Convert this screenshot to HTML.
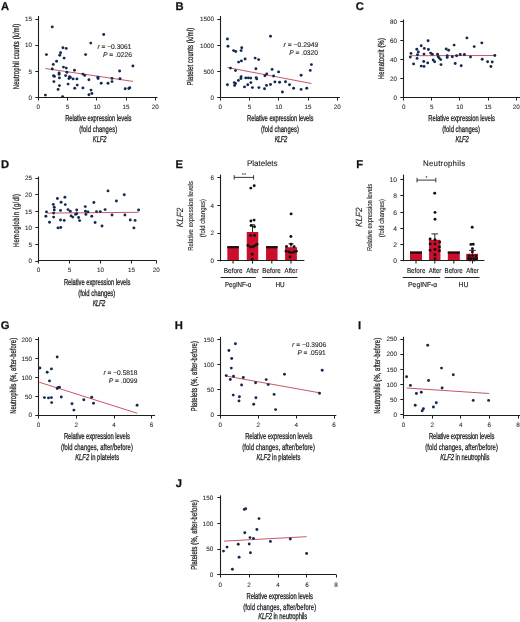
<!DOCTYPE html>
<html><head><meta charset="utf-8"><style>
html,body{margin:0;padding:0;background:#fff;width:520px;height:622px;overflow:hidden}
svg{display:block;will-change:transform;filter:blur(0.35px)}
text{font-family:"Liberation Sans", sans-serif;text-rendering:geometricPrecision}
</style></head><body>
<svg width="520" height="622" viewBox="0 0 520 622">
<rect width="520" height="622" fill="#fff"/>
<text x="1.00" y="10.02" font-size="11.2" font-weight="bold" fill="#111" stroke="#111" stroke-width="0.25">A</text>
<line x1="38.50" y1="16.00" x2="38.50" y2="97.55" stroke="#1e1e1e" stroke-width="1.1"/>
<line x1="35.30" y1="19.50" x2="38.50" y2="19.50" stroke="#1e1e1e" stroke-width="1.0"/>
<text x="31.90" y="21.47" font-size="6.3" fill="#2b2b2b" stroke="#2b2b2b" stroke-width="0.08" text-anchor="end">15</text>
<line x1="35.30" y1="45.50" x2="38.50" y2="45.50" stroke="#1e1e1e" stroke-width="1.0"/>
<text x="31.90" y="47.47" font-size="6.3" fill="#2b2b2b" stroke="#2b2b2b" stroke-width="0.08" text-anchor="end">10</text>
<line x1="35.30" y1="71.50" x2="38.50" y2="71.50" stroke="#1e1e1e" stroke-width="1.0"/>
<text x="31.90" y="73.57" font-size="6.3" fill="#2b2b2b" stroke="#2b2b2b" stroke-width="0.08" text-anchor="end">5</text>
<line x1="35.30" y1="97.50" x2="38.50" y2="97.50" stroke="#1e1e1e" stroke-width="1.0"/>
<text x="31.90" y="99.57" font-size="6.3" fill="#2b2b2b" stroke="#2b2b2b" stroke-width="0.08" text-anchor="end">0</text>
<line x1="37.95" y1="97.50" x2="157.50" y2="97.50" stroke="#1e1e1e" stroke-width="1.15"/>
<line x1="38.50" y1="97.50" x2="38.50" y2="100.50" stroke="#1e1e1e" stroke-width="1.0"/>
<text x="38.30" y="109.17" font-size="6.3" fill="#2b2b2b" stroke="#2b2b2b" stroke-width="0.08" text-anchor="middle">0</text>
<line x1="67.50" y1="97.50" x2="67.50" y2="100.50" stroke="#1e1e1e" stroke-width="1.0"/>
<text x="67.60" y="109.17" font-size="6.3" fill="#2b2b2b" stroke="#2b2b2b" stroke-width="0.08" text-anchor="middle">5</text>
<line x1="96.50" y1="97.50" x2="96.50" y2="100.50" stroke="#1e1e1e" stroke-width="1.0"/>
<text x="96.90" y="109.17" font-size="6.3" fill="#2b2b2b" stroke="#2b2b2b" stroke-width="0.08" text-anchor="middle">10</text>
<line x1="126.50" y1="97.50" x2="126.50" y2="100.50" stroke="#1e1e1e" stroke-width="1.0"/>
<text x="126.10" y="109.17" font-size="6.3" fill="#2b2b2b" stroke="#2b2b2b" stroke-width="0.08" text-anchor="middle">15</text>
<line x1="155.50" y1="97.50" x2="155.50" y2="100.50" stroke="#1e1e1e" stroke-width="1.0"/>
<text x="155.30" y="109.17" font-size="6.3" fill="#2b2b2b" stroke="#2b2b2b" stroke-width="0.08" text-anchor="middle">20</text>
<text transform="translate(19.35,89.25) rotate(-90) scale(0.68,1)" x="0" y="0" font-size="8.6" font-style="normal" fill="#272727" stroke="#272727" stroke-width="0.3" textLength="96.18" lengthAdjust="spacing">Neutrophil counts (k/ml)</text>
<text transform="translate(65.15,120.90) scale(0.68,1)" x="0" y="0" font-size="8.6" font-style="normal" fill="#272727" stroke="#272727" stroke-width="0.3" textLength="97.65" lengthAdjust="spacing">Relative expression levels</text>
<text transform="translate(79.35,131.50) scale(0.68,1)" x="0" y="0" font-size="8.6" font-style="normal" fill="#272727" stroke="#272727" stroke-width="0.3" textLength="55.59" lengthAdjust="spacing">(fold changes)</text>
<text transform="translate(92.85,142.10) scale(0.68,1)" x="0" y="0" font-size="8.6" font-style="italic" fill="#272727" stroke="#272727" stroke-width="0.3" textLength="20.15" lengthAdjust="spacing">KLF2</text>
<text x="97.50" y="49.05" font-size="6.8" font-weight="normal" font-style="normal" fill="#2b2b2b" stroke="#2b2b2b" stroke-width="0.12" textLength="33.90" lengthAdjust="spacingAndGlyphs"><tspan font-style="italic">r</tspan> = −0.3061</text>
<text x="103.00" y="57.25" font-size="6.8" font-weight="normal" font-style="normal" fill="#2b2b2b" stroke="#2b2b2b" stroke-width="0.12" textLength="29.00" lengthAdjust="spacingAndGlyphs"><tspan font-style="italic">P</tspan> = .0226</text>
<line x1="45.40" y1="68.50" x2="132.90" y2="81.40" stroke="#bf3850" stroke-width="0.85"/>
<circle cx="52.25" cy="26.90" r="1.45" fill="#132a50"/>
<circle cx="90.75" cy="43.10" r="1.45" fill="#132a50"/>
<circle cx="62.90" cy="47.75" r="1.45" fill="#132a50"/>
<circle cx="66.25" cy="48.40" r="1.45" fill="#132a50"/>
<circle cx="46.40" cy="54.60" r="1.45" fill="#132a50"/>
<circle cx="85.60" cy="54.60" r="1.45" fill="#132a50"/>
<circle cx="60.60" cy="52.75" r="1.45" fill="#132a50"/>
<circle cx="59.75" cy="55.25" r="1.45" fill="#132a50"/>
<circle cx="64.10" cy="58.10" r="1.45" fill="#132a50"/>
<circle cx="56.60" cy="61.25" r="1.45" fill="#132a50"/>
<circle cx="53.25" cy="64.40" r="1.45" fill="#132a50"/>
<circle cx="63.50" cy="67.10" r="1.45" fill="#132a50"/>
<circle cx="66.25" cy="68.10" r="1.45" fill="#132a50"/>
<circle cx="52.25" cy="69.00" r="1.45" fill="#132a50"/>
<circle cx="74.50" cy="70.25" r="1.45" fill="#132a50"/>
<circle cx="59.10" cy="72.90" r="1.45" fill="#132a50"/>
<circle cx="59.10" cy="74.20" r="1.45" fill="#132a50"/>
<circle cx="66.90" cy="72.25" r="1.45" fill="#132a50"/>
<circle cx="53.50" cy="75.75" r="1.45" fill="#132a50"/>
<circle cx="54.40" cy="76.40" r="1.45" fill="#132a50"/>
<circle cx="65.60" cy="75.60" r="1.45" fill="#132a50"/>
<circle cx="69.50" cy="76.60" r="1.45" fill="#132a50"/>
<circle cx="70.40" cy="77.50" r="1.45" fill="#132a50"/>
<circle cx="68.90" cy="78.50" r="1.45" fill="#132a50"/>
<circle cx="73.10" cy="78.90" r="1.45" fill="#132a50"/>
<circle cx="76.90" cy="78.90" r="1.45" fill="#132a50"/>
<circle cx="82.90" cy="74.10" r="1.45" fill="#132a50"/>
<circle cx="84.75" cy="75.40" r="1.45" fill="#132a50"/>
<circle cx="59.40" cy="77.90" r="1.45" fill="#132a50"/>
<circle cx="53.90" cy="81.60" r="1.45" fill="#132a50"/>
<circle cx="88.90" cy="79.75" r="1.45" fill="#132a50"/>
<circle cx="97.90" cy="77.25" r="1.45" fill="#132a50"/>
<circle cx="98.10" cy="78.50" r="1.45" fill="#132a50"/>
<circle cx="68.10" cy="84.10" r="1.45" fill="#132a50"/>
<circle cx="59.40" cy="85.60" r="1.45" fill="#132a50"/>
<circle cx="77.25" cy="85.10" r="1.45" fill="#132a50"/>
<circle cx="58.10" cy="89.40" r="1.45" fill="#132a50"/>
<circle cx="74.75" cy="88.25" r="1.45" fill="#132a50"/>
<circle cx="82.90" cy="87.90" r="1.45" fill="#132a50"/>
<circle cx="91.00" cy="90.10" r="1.45" fill="#132a50"/>
<circle cx="91.90" cy="93.50" r="1.45" fill="#132a50"/>
<circle cx="88.90" cy="94.75" r="1.45" fill="#132a50"/>
<circle cx="45.40" cy="95.10" r="1.45" fill="#132a50"/>
<circle cx="62.60" cy="96.60" r="1.45" fill="#132a50"/>
<circle cx="101.20" cy="83.20" r="1.45" fill="#132a50"/>
<circle cx="103.70" cy="34.50" r="1.45" fill="#132a50"/>
<circle cx="132.90" cy="66.00" r="1.45" fill="#132a50"/>
<circle cx="119.60" cy="71.00" r="1.45" fill="#132a50"/>
<circle cx="120.00" cy="78.80" r="1.45" fill="#132a50"/>
<circle cx="112.00" cy="78.40" r="1.45" fill="#132a50"/>
<circle cx="112.00" cy="81.60" r="1.45" fill="#132a50"/>
<circle cx="108.00" cy="83.20" r="1.45" fill="#132a50"/>
<circle cx="125.20" cy="88.80" r="1.45" fill="#132a50"/>
<circle cx="128.80" cy="88.50" r="1.45" fill="#132a50"/>
<circle cx="129.80" cy="87.70" r="1.45" fill="#132a50"/>
<text x="175.40" y="9.92" font-size="11.2" font-weight="bold" fill="#111" stroke="#111" stroke-width="0.25">B</text>
<line x1="220.50" y1="16.00" x2="220.50" y2="97.55" stroke="#1e1e1e" stroke-width="1.1"/>
<line x1="217.30" y1="19.50" x2="220.50" y2="19.50" stroke="#1e1e1e" stroke-width="1.0"/>
<text x="213.90" y="21.47" font-size="6.3" fill="#2b2b2b" stroke="#2b2b2b" stroke-width="0.08" text-anchor="end">1500</text>
<line x1="217.30" y1="45.50" x2="220.50" y2="45.50" stroke="#1e1e1e" stroke-width="1.0"/>
<text x="213.90" y="47.67" font-size="6.3" fill="#2b2b2b" stroke="#2b2b2b" stroke-width="0.08" text-anchor="end">1000</text>
<line x1="217.30" y1="71.50" x2="220.50" y2="71.50" stroke="#1e1e1e" stroke-width="1.0"/>
<text x="213.90" y="73.67" font-size="6.3" fill="#2b2b2b" stroke="#2b2b2b" stroke-width="0.08" text-anchor="end">500</text>
<line x1="217.30" y1="97.50" x2="220.50" y2="97.50" stroke="#1e1e1e" stroke-width="1.0"/>
<text x="213.90" y="99.57" font-size="6.3" fill="#2b2b2b" stroke="#2b2b2b" stroke-width="0.08" text-anchor="end">0</text>
<line x1="219.95" y1="97.50" x2="339.90" y2="97.50" stroke="#1e1e1e" stroke-width="1.15"/>
<line x1="220.50" y1="97.50" x2="220.50" y2="100.50" stroke="#1e1e1e" stroke-width="1.0"/>
<text x="220.30" y="109.17" font-size="6.3" fill="#2b2b2b" stroke="#2b2b2b" stroke-width="0.08" text-anchor="middle">0</text>
<line x1="249.50" y1="97.50" x2="249.50" y2="100.50" stroke="#1e1e1e" stroke-width="1.0"/>
<text x="249.60" y="109.17" font-size="6.3" fill="#2b2b2b" stroke="#2b2b2b" stroke-width="0.08" text-anchor="middle">5</text>
<line x1="278.50" y1="97.50" x2="278.50" y2="100.50" stroke="#1e1e1e" stroke-width="1.0"/>
<text x="278.80" y="109.17" font-size="6.3" fill="#2b2b2b" stroke="#2b2b2b" stroke-width="0.08" text-anchor="middle">10</text>
<line x1="308.50" y1="97.50" x2="308.50" y2="100.50" stroke="#1e1e1e" stroke-width="1.0"/>
<text x="308.00" y="109.17" font-size="6.3" fill="#2b2b2b" stroke="#2b2b2b" stroke-width="0.08" text-anchor="middle">15</text>
<line x1="337.50" y1="97.50" x2="337.50" y2="100.50" stroke="#1e1e1e" stroke-width="1.0"/>
<text x="337.30" y="109.17" font-size="6.3" fill="#2b2b2b" stroke="#2b2b2b" stroke-width="0.08" text-anchor="middle">20</text>
<text transform="translate(192.95,85.45) rotate(-90) scale(0.68,1)" x="0" y="0" font-size="8.6" font-style="normal" fill="#272727" stroke="#272727" stroke-width="0.3" textLength="84.85" lengthAdjust="spacing">Platelet counts (k/ml)</text>
<text transform="translate(247.05,120.90) scale(0.68,1)" x="0" y="0" font-size="8.6" font-style="normal" fill="#272727" stroke="#272727" stroke-width="0.3" textLength="97.72" lengthAdjust="spacing">Relative expression levels</text>
<text transform="translate(260.95,131.50) scale(0.68,1)" x="0" y="0" font-size="8.6" font-style="normal" fill="#272727" stroke="#272727" stroke-width="0.3" textLength="56.03" lengthAdjust="spacing">(fold changes)</text>
<text transform="translate(274.75,142.10) scale(0.68,1)" x="0" y="0" font-size="8.6" font-style="italic" fill="#272727" stroke="#272727" stroke-width="0.3" textLength="18.24" lengthAdjust="spacing">KLF2</text>
<text x="283.60" y="47.35" font-size="6.8" font-weight="normal" font-style="normal" fill="#2b2b2b" stroke="#2b2b2b" stroke-width="0.12" textLength="34.65" lengthAdjust="spacingAndGlyphs"><tspan font-style="italic">r</tspan> = −0.2949</text>
<text x="289.25" y="55.35" font-size="6.8" font-weight="normal" font-style="normal" fill="#2b2b2b" stroke="#2b2b2b" stroke-width="0.12" textLength="28.75" lengthAdjust="spacingAndGlyphs"><tspan font-style="italic">P</tspan> = .0320</text>
<line x1="227.40" y1="67.50" x2="311.50" y2="83.50" stroke="#bf3850" stroke-width="0.85"/>
<circle cx="227.40" cy="39.00" r="1.45" fill="#132a50"/>
<circle cx="228.00" cy="46.25" r="1.45" fill="#132a50"/>
<circle cx="233.60" cy="50.60" r="1.45" fill="#132a50"/>
<circle cx="235.75" cy="51.50" r="1.45" fill="#132a50"/>
<circle cx="241.75" cy="47.75" r="1.45" fill="#132a50"/>
<circle cx="241.10" cy="50.60" r="1.45" fill="#132a50"/>
<circle cx="270.50" cy="36.25" r="1.45" fill="#132a50"/>
<circle cx="245.10" cy="59.00" r="1.45" fill="#132a50"/>
<circle cx="241.40" cy="60.90" r="1.45" fill="#132a50"/>
<circle cx="238.60" cy="62.10" r="1.45" fill="#132a50"/>
<circle cx="255.10" cy="58.10" r="1.45" fill="#132a50"/>
<circle cx="258.60" cy="59.60" r="1.45" fill="#132a50"/>
<circle cx="230.50" cy="68.10" r="1.45" fill="#132a50"/>
<circle cx="235.50" cy="70.60" r="1.45" fill="#132a50"/>
<circle cx="255.90" cy="68.75" r="1.45" fill="#132a50"/>
<circle cx="272.10" cy="69.40" r="1.45" fill="#132a50"/>
<circle cx="278.60" cy="71.90" r="1.45" fill="#132a50"/>
<circle cx="264.90" cy="75.75" r="1.45" fill="#132a50"/>
<circle cx="266.75" cy="73.90" r="1.45" fill="#132a50"/>
<circle cx="273.60" cy="76.00" r="1.45" fill="#132a50"/>
<circle cx="241.10" cy="76.60" r="1.45" fill="#132a50"/>
<circle cx="240.90" cy="78.50" r="1.45" fill="#132a50"/>
<circle cx="245.75" cy="77.90" r="1.45" fill="#132a50"/>
<circle cx="248.40" cy="77.90" r="1.45" fill="#132a50"/>
<circle cx="250.75" cy="78.10" r="1.45" fill="#132a50"/>
<circle cx="256.10" cy="77.60" r="1.45" fill="#132a50"/>
<circle cx="256.75" cy="78.90" r="1.45" fill="#132a50"/>
<circle cx="238.40" cy="80.40" r="1.45" fill="#132a50"/>
<circle cx="234.25" cy="82.60" r="1.45" fill="#132a50"/>
<circle cx="235.50" cy="83.50" r="1.45" fill="#132a50"/>
<circle cx="234.60" cy="85.40" r="1.45" fill="#132a50"/>
<circle cx="227.40" cy="84.75" r="1.45" fill="#132a50"/>
<circle cx="250.90" cy="82.60" r="1.45" fill="#132a50"/>
<circle cx="247.75" cy="84.75" r="1.45" fill="#132a50"/>
<circle cx="244.50" cy="86.90" r="1.45" fill="#132a50"/>
<circle cx="252.40" cy="87.60" r="1.45" fill="#132a50"/>
<circle cx="258.90" cy="87.60" r="1.45" fill="#132a50"/>
<circle cx="264.50" cy="88.75" r="1.45" fill="#132a50"/>
<circle cx="266.50" cy="85.40" r="1.45" fill="#132a50"/>
<circle cx="270.50" cy="84.50" r="1.45" fill="#132a50"/>
<circle cx="274.90" cy="81.90" r="1.45" fill="#132a50"/>
<circle cx="279.60" cy="82.25" r="1.45" fill="#132a50"/>
<circle cx="282.40" cy="92.00" r="1.45" fill="#132a50"/>
<circle cx="311.40" cy="64.60" r="1.45" fill="#132a50"/>
<circle cx="310.25" cy="70.40" r="1.45" fill="#132a50"/>
<circle cx="301.10" cy="75.25" r="1.45" fill="#132a50"/>
<circle cx="285.50" cy="81.70" r="1.45" fill="#132a50"/>
<circle cx="289.50" cy="84.70" r="1.45" fill="#132a50"/>
<circle cx="293.60" cy="88.20" r="1.45" fill="#132a50"/>
<circle cx="306.75" cy="88.30" r="1.45" fill="#132a50"/>
<circle cx="301.10" cy="89.40" r="1.45" fill="#132a50"/>
<text x="355.70" y="9.92" font-size="11.2" font-weight="bold" fill="#111" stroke="#111" stroke-width="0.25">C</text>
<line x1="403.50" y1="19.50" x2="403.50" y2="97.75" stroke="#1e1e1e" stroke-width="1.1"/>
<line x1="400.30" y1="21.50" x2="403.50" y2="21.50" stroke="#1e1e1e" stroke-width="1.0"/>
<text x="396.90" y="23.87" font-size="6.3" fill="#2b2b2b" stroke="#2b2b2b" stroke-width="0.08" text-anchor="end">80</text>
<line x1="400.30" y1="40.50" x2="403.50" y2="40.50" stroke="#1e1e1e" stroke-width="1.0"/>
<text x="396.90" y="42.87" font-size="6.3" fill="#2b2b2b" stroke="#2b2b2b" stroke-width="0.08" text-anchor="end">60</text>
<line x1="400.30" y1="59.50" x2="403.50" y2="59.50" stroke="#1e1e1e" stroke-width="1.0"/>
<text x="396.90" y="61.77" font-size="6.3" fill="#2b2b2b" stroke="#2b2b2b" stroke-width="0.08" text-anchor="end">40</text>
<line x1="400.30" y1="78.50" x2="403.50" y2="78.50" stroke="#1e1e1e" stroke-width="1.0"/>
<text x="396.90" y="80.77" font-size="6.3" fill="#2b2b2b" stroke="#2b2b2b" stroke-width="0.08" text-anchor="end">20</text>
<line x1="400.30" y1="97.50" x2="403.50" y2="97.50" stroke="#1e1e1e" stroke-width="1.0"/>
<text x="396.90" y="99.57" font-size="6.3" fill="#2b2b2b" stroke="#2b2b2b" stroke-width="0.08" text-anchor="end">0</text>
<line x1="402.95" y1="97.50" x2="520.50" y2="97.50" stroke="#1e1e1e" stroke-width="1.15"/>
<line x1="403.50" y1="97.50" x2="403.50" y2="100.50" stroke="#1e1e1e" stroke-width="1.0"/>
<text x="403.70" y="109.17" font-size="6.3" fill="#2b2b2b" stroke="#2b2b2b" stroke-width="0.08" text-anchor="middle">0</text>
<line x1="431.50" y1="97.50" x2="431.50" y2="100.50" stroke="#1e1e1e" stroke-width="1.0"/>
<text x="431.80" y="109.17" font-size="6.3" fill="#2b2b2b" stroke="#2b2b2b" stroke-width="0.08" text-anchor="middle">5</text>
<line x1="459.50" y1="97.50" x2="459.50" y2="100.50" stroke="#1e1e1e" stroke-width="1.0"/>
<text x="459.80" y="109.17" font-size="6.3" fill="#2b2b2b" stroke="#2b2b2b" stroke-width="0.08" text-anchor="middle">10</text>
<line x1="488.50" y1="97.50" x2="488.50" y2="100.50" stroke="#1e1e1e" stroke-width="1.0"/>
<text x="488.00" y="109.17" font-size="6.3" fill="#2b2b2b" stroke="#2b2b2b" stroke-width="0.08" text-anchor="middle">15</text>
<line x1="516.50" y1="97.50" x2="516.50" y2="100.50" stroke="#1e1e1e" stroke-width="1.0"/>
<text x="516.30" y="109.17" font-size="6.3" fill="#2b2b2b" stroke="#2b2b2b" stroke-width="0.08" text-anchor="middle">20</text>
<text transform="translate(383.90,79.15) rotate(-90) scale(0.68,1)" x="0" y="0" font-size="8.6" font-style="normal" fill="#272727" stroke="#272727" stroke-width="0.3" textLength="60.29" lengthAdjust="spacing">Hematocrit (%)</text>
<text transform="translate(428.35,120.90) scale(0.68,1)" x="0" y="0" font-size="8.6" font-style="normal" fill="#272727" stroke="#272727" stroke-width="0.3" textLength="97.94" lengthAdjust="spacing">Relative expression levels</text>
<text transform="translate(442.35,131.50) scale(0.68,1)" x="0" y="0" font-size="8.6" font-style="normal" fill="#272727" stroke="#272727" stroke-width="0.3" textLength="55.29" lengthAdjust="spacing">(fold changes)</text>
<text transform="translate(455.55,142.10) scale(0.68,1)" x="0" y="0" font-size="8.6" font-style="italic" fill="#272727" stroke="#272727" stroke-width="0.3" textLength="19.26" lengthAdjust="spacing">KLF2</text>
<line x1="411.30" y1="55.70" x2="494.80" y2="55.50" stroke="#bf3850" stroke-width="0.85"/>
<circle cx="411.00" cy="53.40" r="1.45" fill="#132a50"/>
<circle cx="410.30" cy="57.00" r="1.45" fill="#132a50"/>
<circle cx="413.60" cy="63.90" r="1.45" fill="#132a50"/>
<circle cx="416.80" cy="49.20" r="1.45" fill="#132a50"/>
<circle cx="418.30" cy="51.90" r="1.45" fill="#132a50"/>
<circle cx="417.50" cy="54.80" r="1.45" fill="#132a50"/>
<circle cx="417.10" cy="58.40" r="1.45" fill="#132a50"/>
<circle cx="421.20" cy="45.80" r="1.45" fill="#132a50"/>
<circle cx="424.30" cy="48.40" r="1.45" fill="#132a50"/>
<circle cx="424.00" cy="54.10" r="1.45" fill="#132a50"/>
<circle cx="423.75" cy="61.50" r="1.45" fill="#132a50"/>
<circle cx="421.20" cy="66.10" r="1.45" fill="#132a50"/>
<circle cx="424.00" cy="66.40" r="1.45" fill="#132a50"/>
<circle cx="427.70" cy="62.90" r="1.45" fill="#132a50"/>
<circle cx="428.10" cy="40.80" r="1.45" fill="#132a50"/>
<circle cx="428.40" cy="49.50" r="1.45" fill="#132a50"/>
<circle cx="430.60" cy="53.10" r="1.45" fill="#132a50"/>
<circle cx="432.30" cy="54.20" r="1.45" fill="#132a50"/>
<circle cx="433.20" cy="60.00" r="1.45" fill="#132a50"/>
<circle cx="434.60" cy="61.75" r="1.45" fill="#132a50"/>
<circle cx="437.50" cy="54.20" r="1.45" fill="#132a50"/>
<circle cx="438.20" cy="56.70" r="1.45" fill="#132a50"/>
<circle cx="439.20" cy="58.10" r="1.45" fill="#132a50"/>
<circle cx="440.70" cy="59.60" r="1.45" fill="#132a50"/>
<circle cx="441.00" cy="64.60" r="1.45" fill="#132a50"/>
<circle cx="446.20" cy="49.00" r="1.45" fill="#132a50"/>
<circle cx="448.60" cy="50.20" r="1.45" fill="#132a50"/>
<circle cx="447.20" cy="55.70" r="1.45" fill="#132a50"/>
<circle cx="447.20" cy="57.40" r="1.45" fill="#132a50"/>
<circle cx="452.30" cy="56.70" r="1.45" fill="#132a50"/>
<circle cx="454.10" cy="45.10" r="1.45" fill="#132a50"/>
<circle cx="455.20" cy="63.50" r="1.45" fill="#132a50"/>
<circle cx="456.60" cy="55.70" r="1.45" fill="#132a50"/>
<circle cx="460.20" cy="54.50" r="1.45" fill="#132a50"/>
<circle cx="461.20" cy="65.80" r="1.45" fill="#132a50"/>
<circle cx="466.90" cy="37.90" r="1.45" fill="#132a50"/>
<circle cx="481.80" cy="42.90" r="1.45" fill="#132a50"/>
<circle cx="474.20" cy="46.60" r="1.45" fill="#132a50"/>
<circle cx="464.40" cy="54.50" r="1.45" fill="#132a50"/>
<circle cx="470.50" cy="57.00" r="1.45" fill="#132a50"/>
<circle cx="482.20" cy="59.30" r="1.45" fill="#132a50"/>
<circle cx="487.60" cy="61.75" r="1.45" fill="#132a50"/>
<circle cx="492.20" cy="62.00" r="1.45" fill="#132a50"/>
<circle cx="490.90" cy="66.50" r="1.45" fill="#132a50"/>
<circle cx="494.80" cy="55.50" r="1.45" fill="#132a50"/>
<text x="1.00" y="168.12" font-size="11.2" font-weight="bold" fill="#111" stroke="#111" stroke-width="0.25">D</text>
<line x1="38.50" y1="176.50" x2="38.50" y2="261.55" stroke="#1e1e1e" stroke-width="1.1"/>
<line x1="35.30" y1="178.50" x2="38.50" y2="178.50" stroke="#1e1e1e" stroke-width="1.0"/>
<text x="31.90" y="180.47" font-size="6.3" fill="#2b2b2b" stroke="#2b2b2b" stroke-width="0.08" text-anchor="end">25</text>
<line x1="35.30" y1="194.50" x2="38.50" y2="194.50" stroke="#1e1e1e" stroke-width="1.0"/>
<text x="31.90" y="197.07" font-size="6.3" fill="#2b2b2b" stroke="#2b2b2b" stroke-width="0.08" text-anchor="end">20</text>
<line x1="35.30" y1="211.50" x2="38.50" y2="211.50" stroke="#1e1e1e" stroke-width="1.0"/>
<text x="31.90" y="213.67" font-size="6.3" fill="#2b2b2b" stroke="#2b2b2b" stroke-width="0.08" text-anchor="end">15</text>
<line x1="35.30" y1="227.50" x2="38.50" y2="227.50" stroke="#1e1e1e" stroke-width="1.0"/>
<text x="31.90" y="230.27" font-size="6.3" fill="#2b2b2b" stroke="#2b2b2b" stroke-width="0.08" text-anchor="end">10</text>
<line x1="35.30" y1="244.50" x2="38.50" y2="244.50" stroke="#1e1e1e" stroke-width="1.0"/>
<text x="31.90" y="246.87" font-size="6.3" fill="#2b2b2b" stroke="#2b2b2b" stroke-width="0.08" text-anchor="end">5</text>
<line x1="35.30" y1="261.50" x2="38.50" y2="261.50" stroke="#1e1e1e" stroke-width="1.0"/>
<text x="31.90" y="263.37" font-size="6.3" fill="#2b2b2b" stroke="#2b2b2b" stroke-width="0.08" text-anchor="end">0</text>
<line x1="37.95" y1="260.50" x2="156.60" y2="260.50" stroke="#1e1e1e" stroke-width="1.15"/>
<line x1="38.50" y1="260.50" x2="38.50" y2="263.50" stroke="#1e1e1e" stroke-width="1.0"/>
<text x="38.50" y="272.17" font-size="6.3" fill="#2b2b2b" stroke="#2b2b2b" stroke-width="0.08" text-anchor="middle">0</text>
<line x1="69.50" y1="260.50" x2="69.50" y2="263.50" stroke="#1e1e1e" stroke-width="1.0"/>
<text x="69.40" y="272.17" font-size="6.3" fill="#2b2b2b" stroke="#2b2b2b" stroke-width="0.08" text-anchor="middle">5</text>
<line x1="100.50" y1="260.50" x2="100.50" y2="263.50" stroke="#1e1e1e" stroke-width="1.0"/>
<text x="100.40" y="272.17" font-size="6.3" fill="#2b2b2b" stroke="#2b2b2b" stroke-width="0.08" text-anchor="middle">10</text>
<line x1="131.50" y1="260.50" x2="131.50" y2="263.50" stroke="#1e1e1e" stroke-width="1.0"/>
<text x="131.50" y="272.17" font-size="6.3" fill="#2b2b2b" stroke="#2b2b2b" stroke-width="0.08" text-anchor="middle">15</text>
<line x1="156.50" y1="260.50" x2="156.50" y2="263.50" stroke="#1e1e1e" stroke-width="1.0"/>
<text x="156.30" y="272.17" font-size="6.3" fill="#2b2b2b" stroke="#2b2b2b" stroke-width="0.08" text-anchor="middle">20</text>
<text transform="translate(18.75,247.25) rotate(-90) scale(0.68,1)" x="0" y="0" font-size="8.6" font-style="normal" fill="#272727" stroke="#272727" stroke-width="0.3" textLength="78.38" lengthAdjust="spacing">Hemoglobin (g/dl)</text>
<text transform="translate(63.90,285.00) scale(0.68,1)" x="0" y="0" font-size="8.6" font-style="normal" fill="#272727" stroke="#272727" stroke-width="0.3" textLength="97.87" lengthAdjust="spacing">Relative expression levels</text>
<text transform="translate(78.25,295.50) scale(0.68,1)" x="0" y="0" font-size="8.6" font-style="normal" fill="#272727" stroke="#272727" stroke-width="0.3" textLength="54.41" lengthAdjust="spacing">(fold changes)</text>
<text transform="translate(92.65,306.30) scale(0.68,1)" x="0" y="0" font-size="8.6" font-style="italic" fill="#272727" stroke="#272727" stroke-width="0.3" textLength="18.53" lengthAdjust="spacing">KLF2</text>
<line x1="47.40" y1="213.10" x2="138.25" y2="212.30" stroke="#bf3850" stroke-width="0.85"/>
<circle cx="46.50" cy="211.90" r="1.45" fill="#132a50"/>
<circle cx="45.90" cy="216.25" r="1.45" fill="#132a50"/>
<circle cx="49.50" cy="222.25" r="1.45" fill="#132a50"/>
<circle cx="53.25" cy="204.40" r="1.45" fill="#132a50"/>
<circle cx="54.25" cy="207.25" r="1.45" fill="#132a50"/>
<circle cx="54.25" cy="210.00" r="1.45" fill="#132a50"/>
<circle cx="53.60" cy="213.10" r="1.45" fill="#132a50"/>
<circle cx="53.60" cy="217.10" r="1.45" fill="#132a50"/>
<circle cx="57.40" cy="198.50" r="1.45" fill="#132a50"/>
<circle cx="61.10" cy="202.25" r="1.45" fill="#132a50"/>
<circle cx="64.90" cy="197.25" r="1.45" fill="#132a50"/>
<circle cx="65.25" cy="204.60" r="1.45" fill="#132a50"/>
<circle cx="60.50" cy="210.40" r="1.45" fill="#132a50"/>
<circle cx="60.50" cy="220.00" r="1.45" fill="#132a50"/>
<circle cx="64.25" cy="220.40" r="1.45" fill="#132a50"/>
<circle cx="58.00" cy="227.90" r="1.45" fill="#132a50"/>
<circle cx="60.75" cy="227.50" r="1.45" fill="#132a50"/>
<circle cx="68.00" cy="209.60" r="1.45" fill="#132a50"/>
<circle cx="70.25" cy="211.25" r="1.45" fill="#132a50"/>
<circle cx="71.10" cy="215.90" r="1.45" fill="#132a50"/>
<circle cx="72.75" cy="217.10" r="1.45" fill="#132a50"/>
<circle cx="76.75" cy="210.00" r="1.45" fill="#132a50"/>
<circle cx="76.75" cy="213.75" r="1.45" fill="#132a50"/>
<circle cx="75.50" cy="214.40" r="1.45" fill="#132a50"/>
<circle cx="78.60" cy="217.50" r="1.45" fill="#132a50"/>
<circle cx="79.60" cy="220.60" r="1.45" fill="#132a50"/>
<circle cx="85.25" cy="206.60" r="1.45" fill="#132a50"/>
<circle cx="85.50" cy="211.25" r="1.45" fill="#132a50"/>
<circle cx="85.90" cy="214.40" r="1.45" fill="#132a50"/>
<circle cx="88.00" cy="211.90" r="1.45" fill="#132a50"/>
<circle cx="93.90" cy="202.50" r="1.45" fill="#132a50"/>
<circle cx="91.75" cy="216.25" r="1.45" fill="#132a50"/>
<circle cx="95.10" cy="222.50" r="1.45" fill="#132a50"/>
<circle cx="96.50" cy="211.60" r="1.45" fill="#132a50"/>
<circle cx="100.25" cy="211.60" r="1.45" fill="#132a50"/>
<circle cx="102.00" cy="226.00" r="1.45" fill="#132a50"/>
<circle cx="108.00" cy="190.90" r="1.45" fill="#132a50"/>
<circle cx="124.25" cy="194.75" r="1.45" fill="#132a50"/>
<circle cx="116.40" cy="201.00" r="1.45" fill="#132a50"/>
<circle cx="105.10" cy="209.60" r="1.45" fill="#132a50"/>
<circle cx="112.00" cy="215.00" r="1.45" fill="#132a50"/>
<circle cx="124.90" cy="215.00" r="1.45" fill="#132a50"/>
<circle cx="130.25" cy="220.00" r="1.45" fill="#132a50"/>
<circle cx="135.10" cy="220.40" r="1.45" fill="#132a50"/>
<circle cx="138.60" cy="210.00" r="1.45" fill="#132a50"/>
<circle cx="133.90" cy="227.90" r="1.45" fill="#132a50"/>
<text x="175.60" y="168.12" font-size="11.2" font-weight="bold" fill="#111" stroke="#111" stroke-width="0.25">E</text>
<text x="247.0" y="165.9" font-size="8.1" fill="#222" stroke="#222" stroke-width="0.1" textLength="30.6" lengthAdjust="spacing">Platelets</text>
<line x1="220.50" y1="174.60" x2="220.50" y2="261.35" stroke="#1e1e1e" stroke-width="1.1"/>
<line x1="217.30" y1="177.50" x2="220.50" y2="177.50" stroke="#1e1e1e" stroke-width="1.0"/>
<text x="213.90" y="179.77" font-size="6.3" fill="#2b2b2b" stroke="#2b2b2b" stroke-width="0.08" text-anchor="end">6</text>
<line x1="217.30" y1="205.50" x2="220.50" y2="205.50" stroke="#1e1e1e" stroke-width="1.0"/>
<text x="213.90" y="207.57" font-size="6.3" fill="#2b2b2b" stroke="#2b2b2b" stroke-width="0.08" text-anchor="end">4</text>
<line x1="217.30" y1="233.50" x2="220.50" y2="233.50" stroke="#1e1e1e" stroke-width="1.0"/>
<text x="213.90" y="235.37" font-size="6.3" fill="#2b2b2b" stroke="#2b2b2b" stroke-width="0.08" text-anchor="end">2</text>
<line x1="217.30" y1="260.50" x2="220.50" y2="260.50" stroke="#1e1e1e" stroke-width="1.0"/>
<text x="213.90" y="263.17" font-size="6.3" fill="#2b2b2b" stroke="#2b2b2b" stroke-width="0.08" text-anchor="end">0</text>
<line x1="220.00" y1="260.50" x2="304.20" y2="260.50" stroke="#1e1e1e" stroke-width="1.15"/>
<text transform="translate(182.84,227.15) rotate(-90) scale(0.93,1)" x="0" y="0" font-size="9.0" font-style="italic" fill="#272727" stroke="#272727" stroke-width="0.12" textLength="21.08" lengthAdjust="spacing">KLF2</text>
<text transform="translate(192.89,250.85) rotate(-90) scale(0.81,1)" x="0" y="0" font-size="7.2" font-style="normal" fill="#272727" stroke="#272727" stroke-width="0.12" textLength="86.05" lengthAdjust="spacing">Relative expression levels</text>
<text transform="translate(204.59,237.35) rotate(-90) scale(0.81,1)" x="0" y="0" font-size="7.2" font-style="normal" fill="#272727" stroke="#272727" stroke-width="0.12" textLength="47.28" lengthAdjust="spacing">(fold changes)</text>
<rect x="227.35" y="246.20" width="11.50" height="14.60" fill="#cc0d2c"/>
<rect x="227.35" y="246.10" width="11.50" height="2.20" fill="#141010"/>
<rect x="246.75" y="232.00" width="11.50" height="28.80" fill="#cc0d2c"/>
<line x1="252.50" y1="232.00" x2="252.50" y2="224.80" stroke="#111" stroke-width="0.9"/>
<line x1="250.00" y1="224.80" x2="255.00" y2="224.80" stroke="#111" stroke-width="0.9"/>
<circle cx="250.80" cy="188.10" r="1.45" fill="#111"/>
<circle cx="254.20" cy="185.80" r="1.45" fill="#111"/>
<circle cx="250.90" cy="221.00" r="1.45" fill="#111"/>
<circle cx="254.10" cy="220.10" r="1.45" fill="#111"/>
<circle cx="251.10" cy="225.60" r="1.45" fill="#111"/>
<circle cx="254.50" cy="226.70" r="1.45" fill="#111"/>
<circle cx="250.60" cy="235.40" r="1.45" fill="#111"/>
<circle cx="254.60" cy="235.40" r="1.45" fill="#111"/>
<circle cx="247.90" cy="245.40" r="1.45" fill="#111"/>
<circle cx="250.40" cy="247.00" r="1.45" fill="#111"/>
<circle cx="253.00" cy="246.80" r="1.45" fill="#111"/>
<circle cx="255.20" cy="245.60" r="1.45" fill="#111"/>
<circle cx="257.00" cy="244.20" r="1.45" fill="#111"/>
<circle cx="252.20" cy="254.30" r="1.45" fill="#111"/>
<circle cx="252.20" cy="259.30" r="1.45" fill="#111"/>
<rect x="266.05" y="246.20" width="11.50" height="14.60" fill="#cc0d2c"/>
<rect x="266.05" y="246.10" width="11.50" height="2.20" fill="#141010"/>
<rect x="285.10" y="247.20" width="11.80" height="13.60" fill="#cc0d2c"/>
<line x1="291.00" y1="247.20" x2="291.00" y2="243.80" stroke="#111" stroke-width="0.9"/>
<line x1="288.50" y1="243.80" x2="293.50" y2="243.80" stroke="#111" stroke-width="0.9"/>
<circle cx="291.10" cy="213.90" r="1.45" fill="#111"/>
<circle cx="290.90" cy="236.50" r="1.45" fill="#111"/>
<circle cx="286.50" cy="246.50" r="1.45" fill="#111"/>
<circle cx="294.10" cy="246.70" r="1.45" fill="#111"/>
<circle cx="291.10" cy="244.20" r="1.45" fill="#111"/>
<circle cx="286.10" cy="251.30" r="1.45" fill="#111"/>
<circle cx="296.30" cy="251.30" r="1.45" fill="#111"/>
<circle cx="289.00" cy="252.00" r="1.45" fill="#111"/>
<circle cx="291.50" cy="252.60" r="1.45" fill="#111"/>
<circle cx="294.00" cy="252.00" r="1.45" fill="#111"/>
<circle cx="290.00" cy="257.00" r="1.45" fill="#111"/>
<line x1="220.00" y1="260.50" x2="304.20" y2="260.50" stroke="#1e1e1e" stroke-width="1.15"/>
<line x1="233.10" y1="260.80" x2="233.10" y2="263.60" stroke="#1e1e1e" stroke-width="1.1"/>
<line x1="252.50" y1="260.80" x2="252.50" y2="263.60" stroke="#1e1e1e" stroke-width="1.1"/>
<line x1="271.80" y1="260.80" x2="271.80" y2="263.60" stroke="#1e1e1e" stroke-width="1.1"/>
<line x1="291.00" y1="260.80" x2="291.00" y2="263.60" stroke="#1e1e1e" stroke-width="1.1"/>
<line x1="234.20" y1="177.40" x2="253.60" y2="177.40" stroke="#222" stroke-width="0.9"/>
<line x1="234.20" y1="175.20" x2="234.20" y2="179.60" stroke="#222" stroke-width="0.9"/>
<line x1="253.60" y1="175.20" x2="253.60" y2="179.60" stroke="#222" stroke-width="0.9"/>
<text x="244.0" y="177.0" font-size="6" fill="#222" text-anchor="middle">**</text>
<text x="223.80" y="272.99" font-size="7.2" font-weight="normal" font-style="normal" fill="#222" stroke="#222" stroke-width="0.15" textLength="18.90" lengthAdjust="spacingAndGlyphs">Before</text>
<text x="246.20" y="272.99" font-size="7.2" font-weight="normal" font-style="normal" fill="#222" stroke="#222" stroke-width="0.15" textLength="12.80" lengthAdjust="spacingAndGlyphs">After</text>
<text x="262.30" y="272.99" font-size="7.2" font-weight="normal" font-style="normal" fill="#222" stroke="#222" stroke-width="0.15" textLength="18.50" lengthAdjust="spacingAndGlyphs">Before</text>
<text x="284.60" y="272.99" font-size="7.2" font-weight="normal" font-style="normal" fill="#222" stroke="#222" stroke-width="0.15" textLength="12.90" lengthAdjust="spacingAndGlyphs">After</text>
<line x1="220.60" y1="277.50" x2="255.80" y2="277.50" stroke="#222" stroke-width="1.0"/>
<line x1="262.30" y1="277.50" x2="297.50" y2="277.50" stroke="#222" stroke-width="1.0"/>
<text x="225.00" y="286.79" font-size="7.2" font-weight="normal" font-style="normal" fill="#222" stroke="#222" stroke-width="0.15" textLength="26.30" lengthAdjust="spacingAndGlyphs">PegINF-α</text>
<text x="275.40" y="286.79" font-size="7.2" font-weight="normal" font-style="normal" fill="#222" stroke="#222" stroke-width="0.15" textLength="9.20" lengthAdjust="spacingAndGlyphs">HU</text>
<text x="356.20" y="168.12" font-size="11.2" font-weight="bold" fill="#111" stroke="#111" stroke-width="0.25">F</text>
<text x="423.1" y="166.0" font-size="7.9" fill="#222" stroke="#222" stroke-width="0.1" textLength="42.0" lengthAdjust="spacing">Neutrophils</text>
<line x1="403.50" y1="174.60" x2="403.50" y2="261.25" stroke="#1e1e1e" stroke-width="1.1"/>
<line x1="400.30" y1="179.50" x2="403.50" y2="179.50" stroke="#1e1e1e" stroke-width="1.0"/>
<text x="397.00" y="182.01" font-size="6.7" fill="#2b2b2b" stroke="#2b2b2b" stroke-width="0.08" text-anchor="end">10</text>
<line x1="400.30" y1="195.50" x2="403.50" y2="195.50" stroke="#1e1e1e" stroke-width="1.0"/>
<text x="397.00" y="198.21" font-size="6.7" fill="#2b2b2b" stroke="#2b2b2b" stroke-width="0.08" text-anchor="end">8</text>
<line x1="400.30" y1="212.50" x2="403.50" y2="212.50" stroke="#1e1e1e" stroke-width="1.0"/>
<text x="397.00" y="214.51" font-size="6.7" fill="#2b2b2b" stroke="#2b2b2b" stroke-width="0.08" text-anchor="end">6</text>
<line x1="400.30" y1="228.50" x2="403.50" y2="228.50" stroke="#1e1e1e" stroke-width="1.0"/>
<text x="397.00" y="230.81" font-size="6.7" fill="#2b2b2b" stroke="#2b2b2b" stroke-width="0.08" text-anchor="end">4</text>
<line x1="400.30" y1="244.50" x2="403.50" y2="244.50" stroke="#1e1e1e" stroke-width="1.0"/>
<text x="397.00" y="247.01" font-size="6.7" fill="#2b2b2b" stroke="#2b2b2b" stroke-width="0.08" text-anchor="end">2</text>
<line x1="400.30" y1="260.50" x2="403.50" y2="260.50" stroke="#1e1e1e" stroke-width="1.0"/>
<text x="397.00" y="263.21" font-size="6.7" fill="#2b2b2b" stroke="#2b2b2b" stroke-width="0.08" text-anchor="end">0</text>
<text transform="translate(362.14,226.95) rotate(-90) scale(0.93,1)" x="0" y="0" font-size="9.0" font-style="italic" fill="#272727" stroke="#272727" stroke-width="0.12" textLength="20.97" lengthAdjust="spacing">KLF2</text>
<text transform="translate(372.49,251.05) rotate(-90) scale(0.81,1)" x="0" y="0" font-size="7.2" font-style="normal" fill="#272727" stroke="#272727" stroke-width="0.12" textLength="82.96" lengthAdjust="spacing">Relative expression levels</text>
<text transform="translate(383.89,237.15) rotate(-90) scale(0.81,1)" x="0" y="0" font-size="7.2" font-style="normal" fill="#272727" stroke="#272727" stroke-width="0.12" textLength="47.04" lengthAdjust="spacing">(fold changes)</text>
<rect x="410.00" y="251.60" width="12.00" height="9.10" fill="#cc0d2c"/>
<rect x="410.00" y="251.50" width="12.00" height="2.20" fill="#141010"/>
<rect x="429.05" y="239.80" width="11.40" height="20.90" fill="#cc0d2c"/>
<line x1="434.80" y1="239.80" x2="434.80" y2="233.90" stroke="#111" stroke-width="0.9"/>
<line x1="431.50" y1="233.90" x2="438.10" y2="233.90" stroke="#111" stroke-width="0.9"/>
<circle cx="434.70" cy="193.20" r="1.45" fill="#111"/>
<circle cx="435.00" cy="212.40" r="1.45" fill="#111"/>
<circle cx="435.00" cy="219.30" r="1.45" fill="#111"/>
<circle cx="430.10" cy="239.00" r="1.45" fill="#111"/>
<circle cx="435.00" cy="239.80" r="1.45" fill="#111"/>
<circle cx="439.70" cy="242.10" r="1.45" fill="#111"/>
<circle cx="430.10" cy="243.90" r="1.45" fill="#111"/>
<circle cx="435.00" cy="243.90" r="1.45" fill="#111"/>
<circle cx="439.40" cy="247.00" r="1.45" fill="#111"/>
<circle cx="430.10" cy="250.30" r="1.45" fill="#111"/>
<circle cx="435.00" cy="249.50" r="1.45" fill="#111"/>
<circle cx="439.40" cy="250.80" r="1.45" fill="#111"/>
<circle cx="435.00" cy="254.70" r="1.45" fill="#111"/>
<circle cx="435.00" cy="258.80" r="1.45" fill="#111"/>
<rect x="447.80" y="251.60" width="12.00" height="9.10" fill="#cc0d2c"/>
<rect x="447.80" y="251.50" width="12.00" height="2.20" fill="#141010"/>
<rect x="466.20" y="253.80" width="11.80" height="6.90" fill="#cc0d2c"/>
<line x1="472.40" y1="253.80" x2="472.40" y2="250.40" stroke="#111" stroke-width="0.9"/>
<line x1="469.10" y1="250.40" x2="475.70" y2="250.40" stroke="#111" stroke-width="0.9"/>
<circle cx="472.20" cy="227.30" r="1.45" fill="#111"/>
<circle cx="470.90" cy="244.40" r="1.45" fill="#111"/>
<circle cx="473.20" cy="244.20" r="1.45" fill="#111"/>
<circle cx="472.40" cy="248.80" r="1.45" fill="#111"/>
<circle cx="472.40" cy="252.00" r="1.45" fill="#111"/>
<circle cx="469.00" cy="256.00" r="1.45" fill="#111"/>
<circle cx="472.50" cy="255.60" r="1.45" fill="#111"/>
<circle cx="476.00" cy="256.00" r="1.45" fill="#111"/>
<circle cx="468.60" cy="258.60" r="1.45" fill="#111"/>
<circle cx="471.40" cy="258.40" r="1.45" fill="#111"/>
<circle cx="474.20" cy="258.60" r="1.45" fill="#111"/>
<circle cx="476.40" cy="258.80" r="1.45" fill="#111"/>
<circle cx="470.00" cy="260.00" r="1.45" fill="#111"/>
<circle cx="474.50" cy="260.00" r="1.45" fill="#111"/>
<line x1="403.10" y1="260.50" x2="484.40" y2="260.50" stroke="#1e1e1e" stroke-width="1.15"/>
<line x1="416.00" y1="260.70" x2="416.00" y2="263.50" stroke="#1e1e1e" stroke-width="1.1"/>
<line x1="434.80" y1="260.70" x2="434.80" y2="263.50" stroke="#1e1e1e" stroke-width="1.1"/>
<line x1="453.80" y1="260.70" x2="453.80" y2="263.50" stroke="#1e1e1e" stroke-width="1.1"/>
<line x1="472.50" y1="260.70" x2="472.50" y2="263.50" stroke="#1e1e1e" stroke-width="1.1"/>
<line x1="417.00" y1="180.10" x2="435.80" y2="180.10" stroke="#222" stroke-width="0.9"/>
<line x1="417.00" y1="177.80" x2="417.00" y2="182.40" stroke="#222" stroke-width="0.9"/>
<line x1="435.80" y1="177.80" x2="435.80" y2="182.40" stroke="#222" stroke-width="0.9"/>
<text x="426.3" y="180.4" font-size="6" fill="#222" text-anchor="middle">*</text>
<text x="406.90" y="272.79" font-size="7.2" font-weight="normal" font-style="normal" fill="#222" stroke="#222" stroke-width="0.15" textLength="18.50" lengthAdjust="spacingAndGlyphs">Before</text>
<text x="428.70" y="272.79" font-size="7.2" font-weight="normal" font-style="normal" fill="#222" stroke="#222" stroke-width="0.15" textLength="12.50" lengthAdjust="spacingAndGlyphs">After</text>
<text x="444.60" y="272.79" font-size="7.2" font-weight="normal" font-style="normal" fill="#222" stroke="#222" stroke-width="0.15" textLength="18.10" lengthAdjust="spacingAndGlyphs">Before</text>
<text x="466.20" y="272.79" font-size="7.2" font-weight="normal" font-style="normal" fill="#222" stroke="#222" stroke-width="0.15" textLength="12.50" lengthAdjust="spacingAndGlyphs">After</text>
<line x1="402.70" y1="277.50" x2="440.20" y2="277.50" stroke="#222" stroke-width="1.0"/>
<line x1="444.60" y1="277.50" x2="479.60" y2="277.50" stroke="#222" stroke-width="1.0"/>
<text x="408.10" y="286.79" font-size="7.2" font-weight="normal" font-style="normal" fill="#222" stroke="#222" stroke-width="0.15" textLength="29.20" lengthAdjust="spacingAndGlyphs">PegINF-α</text>
<text x="458.50" y="286.79" font-size="7.2" font-weight="normal" font-style="normal" fill="#222" stroke="#222" stroke-width="0.15" textLength="10.00" lengthAdjust="spacingAndGlyphs">HU</text>
<text x="0.70" y="329.12" font-size="11.2" font-weight="bold" fill="#111" stroke="#111" stroke-width="0.25">G</text>
<line x1="38.50" y1="337.20" x2="38.50" y2="415.55" stroke="#1e1e1e" stroke-width="1.1"/>
<line x1="35.30" y1="339.50" x2="38.50" y2="339.50" stroke="#1e1e1e" stroke-width="1.0"/>
<text x="32.10" y="341.67" font-size="6.3" fill="#2b2b2b" stroke="#2b2b2b" stroke-width="0.08" text-anchor="end">200</text>
<line x1="35.30" y1="358.50" x2="38.50" y2="358.50" stroke="#1e1e1e" stroke-width="1.0"/>
<text x="32.10" y="360.57" font-size="6.3" fill="#2b2b2b" stroke="#2b2b2b" stroke-width="0.08" text-anchor="end">150</text>
<line x1="35.30" y1="377.50" x2="38.50" y2="377.50" stroke="#1e1e1e" stroke-width="1.0"/>
<text x="32.10" y="379.57" font-size="6.3" fill="#2b2b2b" stroke="#2b2b2b" stroke-width="0.08" text-anchor="end">100</text>
<line x1="35.30" y1="396.50" x2="38.50" y2="396.50" stroke="#1e1e1e" stroke-width="1.0"/>
<text x="32.10" y="398.57" font-size="6.3" fill="#2b2b2b" stroke="#2b2b2b" stroke-width="0.08" text-anchor="end">50</text>
<line x1="35.30" y1="415.50" x2="38.50" y2="415.50" stroke="#1e1e1e" stroke-width="1.0"/>
<text x="32.10" y="417.37" font-size="6.3" fill="#2b2b2b" stroke="#2b2b2b" stroke-width="0.08" text-anchor="end">0</text>
<line x1="37.95" y1="415.50" x2="155.10" y2="415.50" stroke="#1e1e1e" stroke-width="1.15"/>
<line x1="38.50" y1="415.50" x2="38.50" y2="418.50" stroke="#1e1e1e" stroke-width="1.0"/>
<text x="38.60" y="427.27" font-size="6.3" fill="#2b2b2b" stroke="#2b2b2b" stroke-width="0.08" text-anchor="middle">0</text>
<line x1="76.50" y1="415.50" x2="76.50" y2="418.50" stroke="#1e1e1e" stroke-width="1.0"/>
<text x="76.30" y="427.27" font-size="6.3" fill="#2b2b2b" stroke="#2b2b2b" stroke-width="0.08" text-anchor="middle">2</text>
<line x1="114.50" y1="415.50" x2="114.50" y2="418.50" stroke="#1e1e1e" stroke-width="1.0"/>
<text x="114.10" y="427.27" font-size="6.3" fill="#2b2b2b" stroke="#2b2b2b" stroke-width="0.08" text-anchor="middle">4</text>
<line x1="151.50" y1="415.50" x2="151.50" y2="418.50" stroke="#1e1e1e" stroke-width="1.0"/>
<text x="151.60" y="427.27" font-size="6.3" fill="#2b2b2b" stroke="#2b2b2b" stroke-width="0.08" text-anchor="middle">6</text>
<text transform="translate(15.55,413.85) rotate(-90) scale(0.68,1)" x="0" y="0" font-size="8.6" font-style="normal" fill="#272727" stroke="#272727" stroke-width="0.3" textLength="111.76" lengthAdjust="spacing">Neutrophils (%, after-before)</text>
<text transform="translate(63.90,438.75) scale(0.68,1)" x="0" y="0" font-size="8.6" font-style="normal" fill="#272727" stroke="#272727" stroke-width="0.3" textLength="96.99" lengthAdjust="spacing">Relative expression levels</text>
<text transform="translate(60.90,450.00) scale(0.68,1)" x="0" y="0" font-size="8.6" font-style="normal" fill="#272727" stroke="#272727" stroke-width="0.3" textLength="105.81" lengthAdjust="spacing">(fold changes, after/before)</text>
<text transform="translate(75.15,460.00) scale(0.68,1)" x="0" y="0" font-size="8.6" font-style="normal" fill="#272727" stroke="#272727" stroke-width="0.3" textLength="64.63" lengthAdjust="spacing"><tspan font-style="italic">KLF2</tspan> in platelets</text>
<text x="103.50" y="374.85" font-size="6.8" font-weight="normal" font-style="normal" fill="#2b2b2b" stroke="#2b2b2b" stroke-width="0.12" textLength="33.90" lengthAdjust="spacingAndGlyphs"><tspan font-style="italic">r</tspan> = −0.5818</text>
<text x="108.80" y="382.85" font-size="6.8" font-weight="normal" font-style="normal" fill="#2b2b2b" stroke="#2b2b2b" stroke-width="0.12" textLength="28.60" lengthAdjust="spacingAndGlyphs"><tspan font-style="italic">P</tspan> = .0099</text>
<line x1="39.20" y1="382.20" x2="137.30" y2="413.30" stroke="#bf3850" stroke-width="0.85"/>
<circle cx="39.90" cy="368.00" r="1.45" fill="#132a50"/>
<circle cx="47.20" cy="372.20" r="1.45" fill="#132a50"/>
<circle cx="51.40" cy="368.90" r="1.45" fill="#132a50"/>
<circle cx="49.50" cy="380.90" r="1.45" fill="#132a50"/>
<circle cx="57.20" cy="357.00" r="1.45" fill="#132a50"/>
<circle cx="57.90" cy="387.60" r="1.45" fill="#132a50"/>
<circle cx="59.50" cy="387.30" r="1.45" fill="#132a50"/>
<circle cx="57.20" cy="388.60" r="1.45" fill="#132a50"/>
<circle cx="44.40" cy="397.60" r="1.45" fill="#132a50"/>
<circle cx="48.50" cy="397.90" r="1.45" fill="#132a50"/>
<circle cx="51.40" cy="397.60" r="1.45" fill="#132a50"/>
<circle cx="51.70" cy="402.60" r="1.45" fill="#132a50"/>
<circle cx="61.30" cy="397.00" r="1.45" fill="#132a50"/>
<circle cx="72.00" cy="403.70" r="1.45" fill="#132a50"/>
<circle cx="73.90" cy="410.10" r="1.45" fill="#132a50"/>
<circle cx="83.80" cy="399.80" r="1.45" fill="#132a50"/>
<circle cx="91.70" cy="397.20" r="1.45" fill="#132a50"/>
<circle cx="93.50" cy="403.30" r="1.45" fill="#132a50"/>
<circle cx="137.10" cy="405.20" r="1.45" fill="#132a50"/>
<text x="174.80" y="329.12" font-size="11.2" font-weight="bold" fill="#111" stroke="#111" stroke-width="0.25">H</text>
<line x1="220.50" y1="336.90" x2="220.50" y2="415.65" stroke="#1e1e1e" stroke-width="1.1"/>
<line x1="217.30" y1="339.50" x2="220.50" y2="339.50" stroke="#1e1e1e" stroke-width="1.0"/>
<text x="214.10" y="341.67" font-size="6.3" fill="#2b2b2b" stroke="#2b2b2b" stroke-width="0.08" text-anchor="end">150</text>
<line x1="217.30" y1="364.50" x2="220.50" y2="364.50" stroke="#1e1e1e" stroke-width="1.0"/>
<text x="214.10" y="366.87" font-size="6.3" fill="#2b2b2b" stroke="#2b2b2b" stroke-width="0.08" text-anchor="end">100</text>
<line x1="217.30" y1="389.50" x2="220.50" y2="389.50" stroke="#1e1e1e" stroke-width="1.0"/>
<text x="214.10" y="392.17" font-size="6.3" fill="#2b2b2b" stroke="#2b2b2b" stroke-width="0.08" text-anchor="end">50</text>
<line x1="217.30" y1="415.50" x2="220.50" y2="415.50" stroke="#1e1e1e" stroke-width="1.0"/>
<text x="214.10" y="417.47" font-size="6.3" fill="#2b2b2b" stroke="#2b2b2b" stroke-width="0.08" text-anchor="end">0</text>
<line x1="219.95" y1="415.50" x2="336.30" y2="415.50" stroke="#1e1e1e" stroke-width="1.15"/>
<line x1="220.50" y1="415.50" x2="220.50" y2="418.50" stroke="#1e1e1e" stroke-width="1.0"/>
<text x="220.30" y="427.27" font-size="6.3" fill="#2b2b2b" stroke="#2b2b2b" stroke-width="0.08" text-anchor="middle">0</text>
<line x1="258.50" y1="415.50" x2="258.50" y2="418.50" stroke="#1e1e1e" stroke-width="1.0"/>
<text x="258.20" y="427.27" font-size="6.3" fill="#2b2b2b" stroke="#2b2b2b" stroke-width="0.08" text-anchor="middle">2</text>
<line x1="296.50" y1="415.50" x2="296.50" y2="418.50" stroke="#1e1e1e" stroke-width="1.0"/>
<text x="296.20" y="427.27" font-size="6.3" fill="#2b2b2b" stroke="#2b2b2b" stroke-width="0.08" text-anchor="middle">4</text>
<line x1="334.50" y1="415.50" x2="334.50" y2="418.50" stroke="#1e1e1e" stroke-width="1.0"/>
<text x="334.00" y="427.27" font-size="6.3" fill="#2b2b2b" stroke="#2b2b2b" stroke-width="0.08" text-anchor="middle">6</text>
<text transform="translate(197.40,411.35) rotate(-90) scale(0.68,1)" x="0" y="0" font-size="8.6" font-style="normal" fill="#272727" stroke="#272727" stroke-width="0.3" textLength="103.24" lengthAdjust="spacing">Platelets (%, after-before)</text>
<text transform="translate(245.15,438.75) scale(0.68,1)" x="0" y="0" font-size="8.6" font-style="normal" fill="#272727" stroke="#272727" stroke-width="0.3" textLength="98.82" lengthAdjust="spacing">Relative expression levels</text>
<text transform="translate(242.15,450.00) scale(0.68,1)" x="0" y="0" font-size="8.6" font-style="normal" fill="#272727" stroke="#272727" stroke-width="0.3" textLength="106.91" lengthAdjust="spacing">(fold changes, after/before)</text>
<text transform="translate(256.40,460.00) scale(0.68,1)" x="0" y="0" font-size="8.6" font-style="normal" fill="#272727" stroke="#272727" stroke-width="0.3" textLength="64.63" lengthAdjust="spacing"><tspan font-style="italic">KLF2</tspan> in platelets</text>
<text x="292.10" y="347.45" font-size="6.8" font-weight="normal" font-style="normal" fill="#2b2b2b" stroke="#2b2b2b" stroke-width="0.12" textLength="34.10" lengthAdjust="spacingAndGlyphs"><tspan font-style="italic">r</tspan> = −0.3906</text>
<text x="297.40" y="355.45" font-size="6.8" font-weight="normal" font-style="normal" fill="#2b2b2b" stroke="#2b2b2b" stroke-width="0.12" textLength="28.30" lengthAdjust="spacingAndGlyphs"><tspan font-style="italic">P</tspan> = .0591</text>
<line x1="226.00" y1="376.00" x2="319.50" y2="392.80" stroke="#bf3850" stroke-width="0.85"/>
<circle cx="235.40" cy="343.70" r="1.45" fill="#132a50"/>
<circle cx="228.90" cy="350.50" r="1.45" fill="#132a50"/>
<circle cx="231.70" cy="358.50" r="1.45" fill="#132a50"/>
<circle cx="231.30" cy="368.10" r="1.45" fill="#132a50"/>
<circle cx="226.20" cy="375.60" r="1.45" fill="#132a50"/>
<circle cx="230.30" cy="379.50" r="1.45" fill="#132a50"/>
<circle cx="233.50" cy="376.30" r="1.45" fill="#132a50"/>
<circle cx="243.30" cy="377.50" r="1.45" fill="#132a50"/>
<circle cx="241.60" cy="385.00" r="1.45" fill="#132a50"/>
<circle cx="233.20" cy="395.10" r="1.45" fill="#132a50"/>
<circle cx="239.40" cy="396.80" r="1.45" fill="#132a50"/>
<circle cx="239.00" cy="400.90" r="1.45" fill="#132a50"/>
<circle cx="255.60" cy="382.80" r="1.45" fill="#132a50"/>
<circle cx="255.90" cy="397.70" r="1.45" fill="#132a50"/>
<circle cx="253.70" cy="404.20" r="1.45" fill="#132a50"/>
<circle cx="266.20" cy="379.60" r="1.45" fill="#132a50"/>
<circle cx="268.20" cy="384.60" r="1.45" fill="#132a50"/>
<circle cx="274.10" cy="394.40" r="1.45" fill="#132a50"/>
<circle cx="275.60" cy="409.60" r="1.45" fill="#132a50"/>
<circle cx="322.20" cy="370.30" r="1.45" fill="#132a50"/>
<circle cx="284.50" cy="374.20" r="1.45" fill="#132a50"/>
<circle cx="319.50" cy="393.30" r="1.45" fill="#132a50"/>
<text x="357.90" y="329.12" font-size="11.2" font-weight="bold" fill="#111" stroke="#111" stroke-width="0.25">I</text>
<line x1="403.50" y1="336.80" x2="403.50" y2="415.35" stroke="#1e1e1e" stroke-width="1.1"/>
<line x1="400.30" y1="339.50" x2="403.50" y2="339.50" stroke="#1e1e1e" stroke-width="1.0"/>
<text x="396.90" y="341.37" font-size="6.3" fill="#2b2b2b" stroke="#2b2b2b" stroke-width="0.08" text-anchor="end">250</text>
<line x1="400.30" y1="354.50" x2="403.50" y2="354.50" stroke="#1e1e1e" stroke-width="1.0"/>
<text x="396.90" y="356.47" font-size="6.3" fill="#2b2b2b" stroke="#2b2b2b" stroke-width="0.08" text-anchor="end">200</text>
<line x1="400.30" y1="369.50" x2="403.50" y2="369.50" stroke="#1e1e1e" stroke-width="1.0"/>
<text x="396.90" y="371.67" font-size="6.3" fill="#2b2b2b" stroke="#2b2b2b" stroke-width="0.08" text-anchor="end">150</text>
<line x1="400.30" y1="384.50" x2="403.50" y2="384.50" stroke="#1e1e1e" stroke-width="1.0"/>
<text x="396.90" y="386.77" font-size="6.3" fill="#2b2b2b" stroke="#2b2b2b" stroke-width="0.08" text-anchor="end">100</text>
<line x1="400.30" y1="399.50" x2="403.50" y2="399.50" stroke="#1e1e1e" stroke-width="1.0"/>
<text x="396.90" y="401.97" font-size="6.3" fill="#2b2b2b" stroke="#2b2b2b" stroke-width="0.08" text-anchor="end">50</text>
<line x1="400.30" y1="414.50" x2="403.50" y2="414.50" stroke="#1e1e1e" stroke-width="1.0"/>
<text x="396.90" y="417.17" font-size="6.3" fill="#2b2b2b" stroke="#2b2b2b" stroke-width="0.08" text-anchor="end">0</text>
<line x1="402.95" y1="415.50" x2="520.50" y2="415.50" stroke="#1e1e1e" stroke-width="1.15"/>
<line x1="403.50" y1="415.50" x2="403.50" y2="418.50" stroke="#1e1e1e" stroke-width="1.0"/>
<text x="403.40" y="426.87" font-size="6.3" fill="#2b2b2b" stroke="#2b2b2b" stroke-width="0.08" text-anchor="middle">0</text>
<line x1="432.50" y1="415.50" x2="432.50" y2="418.50" stroke="#1e1e1e" stroke-width="1.0"/>
<text x="432.20" y="426.87" font-size="6.3" fill="#2b2b2b" stroke="#2b2b2b" stroke-width="0.08" text-anchor="middle">2</text>
<line x1="460.50" y1="415.50" x2="460.50" y2="418.50" stroke="#1e1e1e" stroke-width="1.0"/>
<text x="460.70" y="426.87" font-size="6.3" fill="#2b2b2b" stroke="#2b2b2b" stroke-width="0.08" text-anchor="middle">4</text>
<line x1="489.50" y1="415.50" x2="489.50" y2="418.50" stroke="#1e1e1e" stroke-width="1.0"/>
<text x="489.30" y="426.87" font-size="6.3" fill="#2b2b2b" stroke="#2b2b2b" stroke-width="0.08" text-anchor="middle">6</text>
<line x1="518.50" y1="415.50" x2="518.50" y2="418.50" stroke="#1e1e1e" stroke-width="1.0"/>
<text x="518.00" y="426.87" font-size="6.3" fill="#2b2b2b" stroke="#2b2b2b" stroke-width="0.08" text-anchor="middle">8</text>
<text transform="translate(380.35,413.75) rotate(-90) scale(0.68,1)" x="0" y="0" font-size="8.6" font-style="normal" fill="#272727" stroke="#272727" stroke-width="0.3" textLength="111.62" lengthAdjust="spacing">Neutrophils (%, after-before)</text>
<text transform="translate(428.90,438.75) scale(0.68,1)" x="0" y="0" font-size="8.6" font-style="normal" fill="#272727" stroke="#272727" stroke-width="0.3" textLength="96.25" lengthAdjust="spacing">Relative expression levels</text>
<text transform="translate(425.15,449.80) scale(0.68,1)" x="0" y="0" font-size="8.6" font-style="normal" fill="#272727" stroke="#272727" stroke-width="0.3" textLength="106.91" lengthAdjust="spacing">(fold changes, after/before)</text>
<text transform="translate(440.15,460.00) scale(0.68,1)" x="0" y="0" font-size="8.6" font-style="normal" fill="#272727" stroke="#272727" stroke-width="0.3" textLength="72.35" lengthAdjust="spacing"><tspan font-style="italic">KLF2</tspan> in neutrophils</text>
<line x1="406.60" y1="388.00" x2="489.10" y2="393.50" stroke="#bf3850" stroke-width="0.85"/>
<circle cx="427.70" cy="345.20" r="1.45" fill="#132a50"/>
<circle cx="441.50" cy="368.10" r="1.45" fill="#132a50"/>
<circle cx="453.30" cy="374.70" r="1.45" fill="#132a50"/>
<circle cx="406.60" cy="376.70" r="1.45" fill="#132a50"/>
<circle cx="428.60" cy="380.50" r="1.45" fill="#132a50"/>
<circle cx="410.40" cy="385.40" r="1.45" fill="#132a50"/>
<circle cx="442.10" cy="388.00" r="1.45" fill="#132a50"/>
<circle cx="416.40" cy="393.50" r="1.45" fill="#132a50"/>
<circle cx="421.30" cy="392.30" r="1.45" fill="#132a50"/>
<circle cx="415.20" cy="405.30" r="1.45" fill="#132a50"/>
<circle cx="433.40" cy="407.00" r="1.45" fill="#132a50"/>
<circle cx="436.30" cy="402.70" r="1.45" fill="#132a50"/>
<circle cx="423.40" cy="408.70" r="1.45" fill="#132a50"/>
<circle cx="422.20" cy="410.80" r="1.45" fill="#132a50"/>
<circle cx="473.20" cy="400.40" r="1.45" fill="#132a50"/>
<circle cx="488.60" cy="400.40" r="1.45" fill="#132a50"/>
<text x="175.80" y="487.32" font-size="11.2" font-weight="bold" fill="#111" stroke="#111" stroke-width="0.25">J</text>
<line x1="220.50" y1="495.30" x2="220.50" y2="575.35" stroke="#1e1e1e" stroke-width="1.1"/>
<line x1="217.30" y1="497.50" x2="220.50" y2="497.50" stroke="#1e1e1e" stroke-width="1.0"/>
<text x="213.30" y="500.17" font-size="6.3" fill="#2b2b2b" stroke="#2b2b2b" stroke-width="0.08" text-anchor="end">150</text>
<line x1="217.30" y1="523.50" x2="220.50" y2="523.50" stroke="#1e1e1e" stroke-width="1.0"/>
<text x="213.30" y="525.87" font-size="6.3" fill="#2b2b2b" stroke="#2b2b2b" stroke-width="0.08" text-anchor="end">100</text>
<line x1="217.30" y1="549.50" x2="220.50" y2="549.50" stroke="#1e1e1e" stroke-width="1.0"/>
<text x="213.30" y="551.47" font-size="6.3" fill="#2b2b2b" stroke="#2b2b2b" stroke-width="0.08" text-anchor="end">50</text>
<line x1="217.30" y1="574.50" x2="220.50" y2="574.50" stroke="#1e1e1e" stroke-width="1.0"/>
<text x="213.30" y="577.17" font-size="6.3" fill="#2b2b2b" stroke="#2b2b2b" stroke-width="0.08" text-anchor="end">0</text>
<line x1="219.95" y1="574.50" x2="336.00" y2="574.50" stroke="#1e1e1e" stroke-width="1.15"/>
<line x1="220.50" y1="574.50" x2="220.50" y2="577.50" stroke="#1e1e1e" stroke-width="1.0"/>
<text x="220.20" y="586.67" font-size="6.3" fill="#2b2b2b" stroke="#2b2b2b" stroke-width="0.08" text-anchor="middle">0</text>
<line x1="249.50" y1="574.50" x2="249.50" y2="577.50" stroke="#1e1e1e" stroke-width="1.0"/>
<text x="249.10" y="586.67" font-size="6.3" fill="#2b2b2b" stroke="#2b2b2b" stroke-width="0.08" text-anchor="middle">2</text>
<line x1="278.50" y1="574.50" x2="278.50" y2="577.50" stroke="#1e1e1e" stroke-width="1.0"/>
<text x="278.10" y="586.67" font-size="6.3" fill="#2b2b2b" stroke="#2b2b2b" stroke-width="0.08" text-anchor="middle">4</text>
<line x1="306.50" y1="574.50" x2="306.50" y2="577.50" stroke="#1e1e1e" stroke-width="1.0"/>
<text x="306.90" y="586.67" font-size="6.3" fill="#2b2b2b" stroke="#2b2b2b" stroke-width="0.08" text-anchor="middle">6</text>
<line x1="336.50" y1="574.50" x2="336.50" y2="577.50" stroke="#1e1e1e" stroke-width="1.0"/>
<text x="336.00" y="586.67" font-size="6.3" fill="#2b2b2b" stroke="#2b2b2b" stroke-width="0.08" text-anchor="middle">8</text>
<text transform="translate(196.95,569.85) rotate(-90) scale(0.68,1)" x="0" y="0" font-size="8.6" font-style="normal" fill="#272727" stroke="#272727" stroke-width="0.3" textLength="102.50" lengthAdjust="spacing">Platelets (%, after-before)</text>
<text transform="translate(246.45,598.50) scale(0.68,1)" x="0" y="0" font-size="8.6" font-style="normal" fill="#272727" stroke="#272727" stroke-width="0.3" textLength="97.79" lengthAdjust="spacing">Relative expression levels</text>
<text transform="translate(243.25,609.80) scale(0.68,1)" x="0" y="0" font-size="8.6" font-style="normal" fill="#272727" stroke="#272727" stroke-width="0.3" textLength="107.21" lengthAdjust="spacing">(fold changes, after/before)</text>
<text transform="translate(258.15,618.70) scale(0.68,1)" x="0" y="0" font-size="8.6" font-style="normal" fill="#272727" stroke="#272727" stroke-width="0.3" textLength="72.21" lengthAdjust="spacing"><tspan font-style="italic">KLF2</tspan> in neutrophils</text>
<line x1="224.10" y1="541.10" x2="306.60" y2="536.70" stroke="#bf3850" stroke-width="0.85"/>
<circle cx="244.30" cy="509.40" r="1.45" fill="#132a50"/>
<circle cx="245.70" cy="508.70" r="1.45" fill="#132a50"/>
<circle cx="259.00" cy="518.60" r="1.45" fill="#132a50"/>
<circle cx="256.90" cy="529.50" r="1.45" fill="#132a50"/>
<circle cx="244.80" cy="532.70" r="1.45" fill="#132a50"/>
<circle cx="250.00" cy="537.60" r="1.45" fill="#132a50"/>
<circle cx="253.50" cy="538.50" r="1.45" fill="#132a50"/>
<circle cx="270.40" cy="541.40" r="1.45" fill="#132a50"/>
<circle cx="290.30" cy="539.00" r="1.45" fill="#132a50"/>
<circle cx="238.25" cy="544.20" r="1.45" fill="#132a50"/>
<circle cx="249.20" cy="544.00" r="1.45" fill="#132a50"/>
<circle cx="227.00" cy="547.10" r="1.45" fill="#132a50"/>
<circle cx="223.50" cy="551.10" r="1.45" fill="#132a50"/>
<circle cx="250.40" cy="552.70" r="1.45" fill="#132a50"/>
<circle cx="239.10" cy="557.20" r="1.45" fill="#132a50"/>
<circle cx="232.40" cy="569.30" r="1.45" fill="#132a50"/>
<circle cx="306.60" cy="553.50" r="1.45" fill="#132a50"/>
</svg>
</body></html>
